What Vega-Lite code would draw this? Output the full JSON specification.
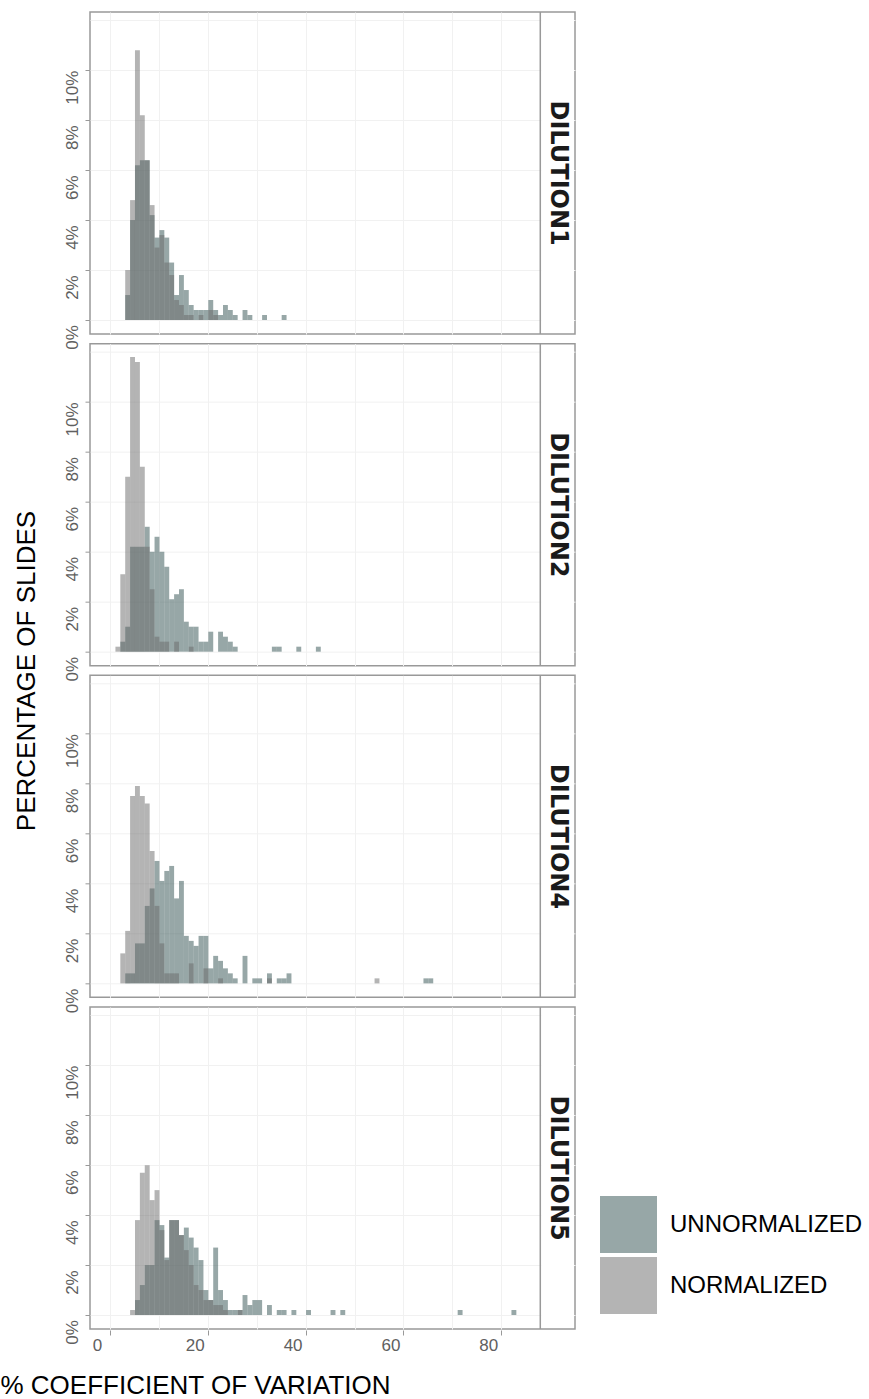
{
  "$schema": "https://vega.github.io/schema/vega-lite/v6.json",
  "padding": {"left": 0, "top": 10, "right": 0, "bottom": 0},
  "autosize": {"type": "pad"},
  "background": "white",
  "config": {
    "view": {"stroke": "#999999", "strokeWidth": 1.5},
    "axis": {"gridWidth": 1}
  },
  "data": {"values": [
    {"panel":"DILUTION1","series":"UNNORMALIZED","cv_start":3,"cv_end":4,"pct":1.0},
    {"panel":"DILUTION1","series":"UNNORMALIZED","cv_start":4,"cv_end":5,"pct":4.0},
    {"panel":"DILUTION1","series":"UNNORMALIZED","cv_start":5,"cv_end":6,"pct":6.2},
    {"panel":"DILUTION1","series":"UNNORMALIZED","cv_start":6,"cv_end":7,"pct":6.4},
    {"panel":"DILUTION1","series":"UNNORMALIZED","cv_start":7,"cv_end":8,"pct":6.4},
    {"panel":"DILUTION1","series":"UNNORMALIZED","cv_start":8,"cv_end":9,"pct":4.2},
    {"panel":"DILUTION1","series":"UNNORMALIZED","cv_start":9,"cv_end":10,"pct":3.3},
    {"panel":"DILUTION1","series":"UNNORMALIZED","cv_start":10,"cv_end":11,"pct":3.6},
    {"panel":"DILUTION1","series":"UNNORMALIZED","cv_start":11,"cv_end":12,"pct":3.3},
    {"panel":"DILUTION1","series":"UNNORMALIZED","cv_start":12,"cv_end":13,"pct":2.3},
    {"panel":"DILUTION1","series":"UNNORMALIZED","cv_start":13,"cv_end":14,"pct":1.0},
    {"panel":"DILUTION1","series":"UNNORMALIZED","cv_start":14,"cv_end":15,"pct":1.8},
    {"panel":"DILUTION1","series":"UNNORMALIZED","cv_start":15,"cv_end":16,"pct":1.2},
    {"panel":"DILUTION1","series":"UNNORMALIZED","cv_start":16,"cv_end":17,"pct":0.6},
    {"panel":"DILUTION1","series":"UNNORMALIZED","cv_start":17,"cv_end":18,"pct":0.4},
    {"panel":"DILUTION1","series":"UNNORMALIZED","cv_start":18,"cv_end":19,"pct":0.4},
    {"panel":"DILUTION1","series":"UNNORMALIZED","cv_start":19,"cv_end":20,"pct":0.4},
    {"panel":"DILUTION1","series":"UNNORMALIZED","cv_start":20,"cv_end":21,"pct":0.8},
    {"panel":"DILUTION1","series":"UNNORMALIZED","cv_start":21,"cv_end":22,"pct":0.4},
    {"panel":"DILUTION1","series":"UNNORMALIZED","cv_start":22,"cv_end":23,"pct":0.2},
    {"panel":"DILUTION1","series":"UNNORMALIZED","cv_start":23,"cv_end":24,"pct":0.6},
    {"panel":"DILUTION1","series":"UNNORMALIZED","cv_start":24,"cv_end":25,"pct":0.4},
    {"panel":"DILUTION1","series":"UNNORMALIZED","cv_start":25,"cv_end":26,"pct":0.2},
    {"panel":"DILUTION1","series":"UNNORMALIZED","cv_start":27,"cv_end":28,"pct":0.4},
    {"panel":"DILUTION1","series":"UNNORMALIZED","cv_start":28,"cv_end":29,"pct":0.2},
    {"panel":"DILUTION1","series":"UNNORMALIZED","cv_start":31,"cv_end":32,"pct":0.2},
    {"panel":"DILUTION1","series":"UNNORMALIZED","cv_start":35,"cv_end":36,"pct":0.2},
    {"panel":"DILUTION2","series":"UNNORMALIZED","cv_start":2,"cv_end":3,"pct":0.4},
    {"panel":"DILUTION2","series":"UNNORMALIZED","cv_start":3,"cv_end":4,"pct":1.0},
    {"panel":"DILUTION2","series":"UNNORMALIZED","cv_start":4,"cv_end":5,"pct":4.2},
    {"panel":"DILUTION2","series":"UNNORMALIZED","cv_start":5,"cv_end":6,"pct":4.2},
    {"panel":"DILUTION2","series":"UNNORMALIZED","cv_start":6,"cv_end":7,"pct":4.2},
    {"panel":"DILUTION2","series":"UNNORMALIZED","cv_start":7,"cv_end":8,"pct":5.0},
    {"panel":"DILUTION2","series":"UNNORMALIZED","cv_start":8,"cv_end":9,"pct":4.0},
    {"panel":"DILUTION2","series":"UNNORMALIZED","cv_start":9,"cv_end":10,"pct":4.6},
    {"panel":"DILUTION2","series":"UNNORMALIZED","cv_start":10,"cv_end":11,"pct":4.0},
    {"panel":"DILUTION2","series":"UNNORMALIZED","cv_start":11,"cv_end":12,"pct":3.4},
    {"panel":"DILUTION2","series":"UNNORMALIZED","cv_start":12,"cv_end":13,"pct":2.1},
    {"panel":"DILUTION2","series":"UNNORMALIZED","cv_start":13,"cv_end":14,"pct":2.3},
    {"panel":"DILUTION2","series":"UNNORMALIZED","cv_start":14,"cv_end":15,"pct":2.5},
    {"panel":"DILUTION2","series":"UNNORMALIZED","cv_start":15,"cv_end":16,"pct":1.2},
    {"panel":"DILUTION2","series":"UNNORMALIZED","cv_start":16,"cv_end":17,"pct":1.0},
    {"panel":"DILUTION2","series":"UNNORMALIZED","cv_start":17,"cv_end":18,"pct":1.0},
    {"panel":"DILUTION2","series":"UNNORMALIZED","cv_start":18,"cv_end":19,"pct":0.4},
    {"panel":"DILUTION2","series":"UNNORMALIZED","cv_start":19,"cv_end":20,"pct":0.4},
    {"panel":"DILUTION2","series":"UNNORMALIZED","cv_start":20,"cv_end":21,"pct":0.8},
    {"panel":"DILUTION2","series":"UNNORMALIZED","cv_start":22,"cv_end":23,"pct":0.8},
    {"panel":"DILUTION2","series":"UNNORMALIZED","cv_start":23,"cv_end":24,"pct":0.6},
    {"panel":"DILUTION2","series":"UNNORMALIZED","cv_start":24,"cv_end":25,"pct":0.4},
    {"panel":"DILUTION2","series":"UNNORMALIZED","cv_start":25,"cv_end":26,"pct":0.2},
    {"panel":"DILUTION2","series":"UNNORMALIZED","cv_start":33,"cv_end":34,"pct":0.2},
    {"panel":"DILUTION2","series":"UNNORMALIZED","cv_start":34,"cv_end":35,"pct":0.2},
    {"panel":"DILUTION2","series":"UNNORMALIZED","cv_start":38,"cv_end":39,"pct":0.2},
    {"panel":"DILUTION2","series":"UNNORMALIZED","cv_start":42,"cv_end":43,"pct":0.2},
    {"panel":"DILUTION4","series":"UNNORMALIZED","cv_start":3,"cv_end":4,"pct":0.4},
    {"panel":"DILUTION4","series":"UNNORMALIZED","cv_start":4,"cv_end":5,"pct":0.4},
    {"panel":"DILUTION4","series":"UNNORMALIZED","cv_start":5,"cv_end":6,"pct":1.6},
    {"panel":"DILUTION4","series":"UNNORMALIZED","cv_start":6,"cv_end":7,"pct":1.6},
    {"panel":"DILUTION4","series":"UNNORMALIZED","cv_start":7,"cv_end":8,"pct":3.1},
    {"panel":"DILUTION4","series":"UNNORMALIZED","cv_start":8,"cv_end":9,"pct":3.8},
    {"panel":"DILUTION4","series":"UNNORMALIZED","cv_start":9,"cv_end":10,"pct":4.9},
    {"panel":"DILUTION4","series":"UNNORMALIZED","cv_start":10,"cv_end":11,"pct":4.1},
    {"panel":"DILUTION4","series":"UNNORMALIZED","cv_start":11,"cv_end":12,"pct":4.5},
    {"panel":"DILUTION4","series":"UNNORMALIZED","cv_start":12,"cv_end":13,"pct":4.7},
    {"panel":"DILUTION4","series":"UNNORMALIZED","cv_start":13,"cv_end":14,"pct":3.4},
    {"panel":"DILUTION4","series":"UNNORMALIZED","cv_start":14,"cv_end":15,"pct":4.1},
    {"panel":"DILUTION4","series":"UNNORMALIZED","cv_start":15,"cv_end":16,"pct":1.9},
    {"panel":"DILUTION4","series":"UNNORMALIZED","cv_start":16,"cv_end":17,"pct":1.7},
    {"panel":"DILUTION4","series":"UNNORMALIZED","cv_start":17,"cv_end":18,"pct":1.5},
    {"panel":"DILUTION4","series":"UNNORMALIZED","cv_start":18,"cv_end":19,"pct":1.9},
    {"panel":"DILUTION4","series":"UNNORMALIZED","cv_start":19,"cv_end":20,"pct":1.9},
    {"panel":"DILUTION4","series":"UNNORMALIZED","cv_start":20,"cv_end":21,"pct":0.6},
    {"panel":"DILUTION4","series":"UNNORMALIZED","cv_start":21,"cv_end":22,"pct":1.1},
    {"panel":"DILUTION4","series":"UNNORMALIZED","cv_start":22,"cv_end":23,"pct":0.9},
    {"panel":"DILUTION4","series":"UNNORMALIZED","cv_start":23,"cv_end":24,"pct":0.6},
    {"panel":"DILUTION4","series":"UNNORMALIZED","cv_start":24,"cv_end":25,"pct":0.4},
    {"panel":"DILUTION4","series":"UNNORMALIZED","cv_start":25,"cv_end":26,"pct":0.2},
    {"panel":"DILUTION4","series":"UNNORMALIZED","cv_start":27,"cv_end":28,"pct":1.1},
    {"panel":"DILUTION4","series":"UNNORMALIZED","cv_start":29,"cv_end":30,"pct":0.2},
    {"panel":"DILUTION4","series":"UNNORMALIZED","cv_start":30,"cv_end":31,"pct":0.2},
    {"panel":"DILUTION4","series":"UNNORMALIZED","cv_start":32,"cv_end":33,"pct":0.4},
    {"panel":"DILUTION4","series":"UNNORMALIZED","cv_start":34,"cv_end":35,"pct":0.2},
    {"panel":"DILUTION4","series":"UNNORMALIZED","cv_start":35,"cv_end":36,"pct":0.2},
    {"panel":"DILUTION4","series":"UNNORMALIZED","cv_start":36,"cv_end":37,"pct":0.4},
    {"panel":"DILUTION4","series":"UNNORMALIZED","cv_start":64,"cv_end":65,"pct":0.2},
    {"panel":"DILUTION4","series":"UNNORMALIZED","cv_start":65,"cv_end":66,"pct":0.2},
    {"panel":"DILUTION5","series":"UNNORMALIZED","cv_start":5,"cv_end":6,"pct":0.6},
    {"panel":"DILUTION5","series":"UNNORMALIZED","cv_start":6,"cv_end":7,"pct":1.2},
    {"panel":"DILUTION5","series":"UNNORMALIZED","cv_start":7,"cv_end":8,"pct":2.0},
    {"panel":"DILUTION5","series":"UNNORMALIZED","cv_start":8,"cv_end":9,"pct":2.0},
    {"panel":"DILUTION5","series":"UNNORMALIZED","cv_start":9,"cv_end":10,"pct":3.8},
    {"panel":"DILUTION5","series":"UNNORMALIZED","cv_start":10,"cv_end":11,"pct":3.6},
    {"panel":"DILUTION5","series":"UNNORMALIZED","cv_start":11,"cv_end":12,"pct":2.3},
    {"panel":"DILUTION5","series":"UNNORMALIZED","cv_start":12,"cv_end":13,"pct":3.8},
    {"panel":"DILUTION5","series":"UNNORMALIZED","cv_start":13,"cv_end":14,"pct":3.8},
    {"panel":"DILUTION5","series":"UNNORMALIZED","cv_start":14,"cv_end":15,"pct":3.2},
    {"panel":"DILUTION5","series":"UNNORMALIZED","cv_start":15,"cv_end":16,"pct":3.5},
    {"panel":"DILUTION5","series":"UNNORMALIZED","cv_start":16,"cv_end":17,"pct":3.1},
    {"panel":"DILUTION5","series":"UNNORMALIZED","cv_start":17,"cv_end":18,"pct":2.7},
    {"panel":"DILUTION5","series":"UNNORMALIZED","cv_start":18,"cv_end":19,"pct":2.2},
    {"panel":"DILUTION5","series":"UNNORMALIZED","cv_start":19,"cv_end":20,"pct":1.0},
    {"panel":"DILUTION5","series":"UNNORMALIZED","cv_start":20,"cv_end":21,"pct":0.6},
    {"panel":"DILUTION5","series":"UNNORMALIZED","cv_start":21,"cv_end":22,"pct":2.7},
    {"panel":"DILUTION5","series":"UNNORMALIZED","cv_start":22,"cv_end":23,"pct":1.0},
    {"panel":"DILUTION5","series":"UNNORMALIZED","cv_start":23,"cv_end":24,"pct":0.6},
    {"panel":"DILUTION5","series":"UNNORMALIZED","cv_start":24,"cv_end":25,"pct":0.2},
    {"panel":"DILUTION5","series":"UNNORMALIZED","cv_start":25,"cv_end":26,"pct":0.2},
    {"panel":"DILUTION5","series":"UNNORMALIZED","cv_start":26,"cv_end":27,"pct":0.2},
    {"panel":"DILUTION5","series":"UNNORMALIZED","cv_start":27,"cv_end":28,"pct":0.8},
    {"panel":"DILUTION5","series":"UNNORMALIZED","cv_start":28,"cv_end":29,"pct":0.4},
    {"panel":"DILUTION5","series":"UNNORMALIZED","cv_start":29,"cv_end":30,"pct":0.6},
    {"panel":"DILUTION5","series":"UNNORMALIZED","cv_start":30,"cv_end":31,"pct":0.6},
    {"panel":"DILUTION5","series":"UNNORMALIZED","cv_start":32,"cv_end":33,"pct":0.4},
    {"panel":"DILUTION5","series":"UNNORMALIZED","cv_start":34,"cv_end":35,"pct":0.2},
    {"panel":"DILUTION5","series":"UNNORMALIZED","cv_start":35,"cv_end":36,"pct":0.2},
    {"panel":"DILUTION5","series":"UNNORMALIZED","cv_start":37,"cv_end":38,"pct":0.2},
    {"panel":"DILUTION5","series":"UNNORMALIZED","cv_start":40,"cv_end":41,"pct":0.2},
    {"panel":"DILUTION5","series":"UNNORMALIZED","cv_start":45,"cv_end":46,"pct":0.2},
    {"panel":"DILUTION5","series":"UNNORMALIZED","cv_start":47,"cv_end":48,"pct":0.2},
    {"panel":"DILUTION5","series":"UNNORMALIZED","cv_start":71,"cv_end":72,"pct":0.2},
    {"panel":"DILUTION5","series":"UNNORMALIZED","cv_start":82,"cv_end":83,"pct":0.2},
    {"panel":"DILUTION1","series":"NORMALIZED","cv_start":3,"cv_end":4,"pct":2.0},
    {"panel":"DILUTION1","series":"NORMALIZED","cv_start":4,"cv_end":5,"pct":4.8},
    {"panel":"DILUTION1","series":"NORMALIZED","cv_start":5,"cv_end":6,"pct":10.8},
    {"panel":"DILUTION1","series":"NORMALIZED","cv_start":6,"cv_end":7,"pct":8.2},
    {"panel":"DILUTION1","series":"NORMALIZED","cv_start":7,"cv_end":8,"pct":6.4},
    {"panel":"DILUTION1","series":"NORMALIZED","cv_start":8,"cv_end":9,"pct":4.6},
    {"panel":"DILUTION1","series":"NORMALIZED","cv_start":9,"cv_end":10,"pct":2.9},
    {"panel":"DILUTION1","series":"NORMALIZED","cv_start":10,"cv_end":11,"pct":3.4},
    {"panel":"DILUTION1","series":"NORMALIZED","cv_start":11,"cv_end":12,"pct":2.3},
    {"panel":"DILUTION1","series":"NORMALIZED","cv_start":12,"cv_end":13,"pct":1.8},
    {"panel":"DILUTION1","series":"NORMALIZED","cv_start":13,"cv_end":14,"pct":0.8},
    {"panel":"DILUTION1","series":"NORMALIZED","cv_start":14,"cv_end":15,"pct":0.6},
    {"panel":"DILUTION1","series":"NORMALIZED","cv_start":15,"cv_end":16,"pct":0.2},
    {"panel":"DILUTION1","series":"NORMALIZED","cv_start":16,"cv_end":17,"pct":0.2},
    {"panel":"DILUTION1","series":"NORMALIZED","cv_start":18,"cv_end":19,"pct":0.2},
    {"panel":"DILUTION1","series":"NORMALIZED","cv_start":20,"cv_end":21,"pct":0.4},
    {"panel":"DILUTION1","series":"NORMALIZED","cv_start":21,"cv_end":22,"pct":0.2},
    {"panel":"DILUTION2","series":"NORMALIZED","cv_start":1,"cv_end":2,"pct":0.2},
    {"panel":"DILUTION2","series":"NORMALIZED","cv_start":2,"cv_end":3,"pct":3.1},
    {"panel":"DILUTION2","series":"NORMALIZED","cv_start":3,"cv_end":4,"pct":7.0},
    {"panel":"DILUTION2","series":"NORMALIZED","cv_start":4,"cv_end":5,"pct":11.8},
    {"panel":"DILUTION2","series":"NORMALIZED","cv_start":5,"cv_end":6,"pct":11.6},
    {"panel":"DILUTION2","series":"NORMALIZED","cv_start":6,"cv_end":7,"pct":7.4},
    {"panel":"DILUTION2","series":"NORMALIZED","cv_start":7,"cv_end":8,"pct":4.2},
    {"panel":"DILUTION2","series":"NORMALIZED","cv_start":8,"cv_end":9,"pct":2.5},
    {"panel":"DILUTION2","series":"NORMALIZED","cv_start":9,"cv_end":10,"pct":0.6},
    {"panel":"DILUTION2","series":"NORMALIZED","cv_start":10,"cv_end":11,"pct":0.4},
    {"panel":"DILUTION2","series":"NORMALIZED","cv_start":11,"cv_end":12,"pct":0.4},
    {"panel":"DILUTION2","series":"NORMALIZED","cv_start":13,"cv_end":14,"pct":0.4},
    {"panel":"DILUTION2","series":"NORMALIZED","cv_start":16,"cv_end":17,"pct":0.2},
    {"panel":"DILUTION4","series":"NORMALIZED","cv_start":2,"cv_end":3,"pct":1.2},
    {"panel":"DILUTION4","series":"NORMALIZED","cv_start":3,"cv_end":4,"pct":2.1},
    {"panel":"DILUTION4","series":"NORMALIZED","cv_start":4,"cv_end":5,"pct":7.5},
    {"panel":"DILUTION4","series":"NORMALIZED","cv_start":5,"cv_end":6,"pct":7.9},
    {"panel":"DILUTION4","series":"NORMALIZED","cv_start":6,"cv_end":7,"pct":7.5},
    {"panel":"DILUTION4","series":"NORMALIZED","cv_start":7,"cv_end":8,"pct":7.2},
    {"panel":"DILUTION4","series":"NORMALIZED","cv_start":8,"cv_end":9,"pct":5.3},
    {"panel":"DILUTION4","series":"NORMALIZED","cv_start":9,"cv_end":10,"pct":3.1},
    {"panel":"DILUTION4","series":"NORMALIZED","cv_start":10,"cv_end":11,"pct":1.6},
    {"panel":"DILUTION4","series":"NORMALIZED","cv_start":11,"cv_end":12,"pct":0.4},
    {"panel":"DILUTION4","series":"NORMALIZED","cv_start":12,"cv_end":13,"pct":0.4},
    {"panel":"DILUTION4","series":"NORMALIZED","cv_start":13,"cv_end":14,"pct":0.4},
    {"panel":"DILUTION4","series":"NORMALIZED","cv_start":16,"cv_end":17,"pct":0.8},
    {"panel":"DILUTION4","series":"NORMALIZED","cv_start":19,"cv_end":20,"pct":0.6},
    {"panel":"DILUTION4","series":"NORMALIZED","cv_start":22,"cv_end":23,"pct":0.2},
    {"panel":"DILUTION4","series":"NORMALIZED","cv_start":32,"cv_end":33,"pct":0.2},
    {"panel":"DILUTION4","series":"NORMALIZED","cv_start":54,"cv_end":55,"pct":0.2},
    {"panel":"DILUTION5","series":"NORMALIZED","cv_start":4,"cv_end":5,"pct":0.2},
    {"panel":"DILUTION5","series":"NORMALIZED","cv_start":5,"cv_end":6,"pct":3.8},
    {"panel":"DILUTION5","series":"NORMALIZED","cv_start":6,"cv_end":7,"pct":5.7},
    {"panel":"DILUTION5","series":"NORMALIZED","cv_start":7,"cv_end":8,"pct":6.0},
    {"panel":"DILUTION5","series":"NORMALIZED","cv_start":8,"cv_end":9,"pct":4.6},
    {"panel":"DILUTION5","series":"NORMALIZED","cv_start":9,"cv_end":10,"pct":5.0},
    {"panel":"DILUTION5","series":"NORMALIZED","cv_start":10,"cv_end":11,"pct":3.4},
    {"panel":"DILUTION5","series":"NORMALIZED","cv_start":11,"cv_end":12,"pct":2.2},
    {"panel":"DILUTION5","series":"NORMALIZED","cv_start":12,"cv_end":13,"pct":3.8},
    {"panel":"DILUTION5","series":"NORMALIZED","cv_start":13,"cv_end":14,"pct":3.8},
    {"panel":"DILUTION5","series":"NORMALIZED","cv_start":14,"cv_end":15,"pct":3.2},
    {"panel":"DILUTION5","series":"NORMALIZED","cv_start":15,"cv_end":16,"pct":2.6},
    {"panel":"DILUTION5","series":"NORMALIZED","cv_start":16,"cv_end":17,"pct":2.0},
    {"panel":"DILUTION5","series":"NORMALIZED","cv_start":17,"cv_end":18,"pct":1.2},
    {"panel":"DILUTION5","series":"NORMALIZED","cv_start":18,"cv_end":19,"pct":1.0},
    {"panel":"DILUTION5","series":"NORMALIZED","cv_start":19,"cv_end":20,"pct":0.6},
    {"panel":"DILUTION5","series":"NORMALIZED","cv_start":20,"cv_end":21,"pct":0.6},
    {"panel":"DILUTION5","series":"NORMALIZED","cv_start":21,"cv_end":22,"pct":0.4},
    {"panel":"DILUTION5","series":"NORMALIZED","cv_start":22,"cv_end":23,"pct":0.4},
    {"panel":"DILUTION5","series":"NORMALIZED","cv_start":23,"cv_end":24,"pct":0.2},
    {"panel":"DILUTION5","series":"NORMALIZED","cv_start":26,"cv_end":27,"pct":0.2}
  ]},
  "facet": {
    "row": {
      "field": "panel",
      "type": "nominal",
      "sort": ["DILUTION1", "DILUTION2", "DILUTION4", "DILUTION5"],
      "title": "PERCENTAGE OF SLIDES",
      "header": {
        "labels": false,
        "titleOrient": "left",
        "titleFontSize": 26,
        "titleFont": "Liberation Sans",
        "titleFontWeight": "normal",
        "titleColor": "black",
        "titlePadding": 12
      }
    }
  },
  "spacing": 9.67,
  "bounds": "flush",
  "spec": {
    "width": 485,
    "height": 322,
    "layer": [
      {
        "mark": {"type": "bar", "opacity": 0.5, "binSpacing": 0, "strokeWidth": 0},
        "encoding": {
          "x": {
            "field": "cv_start",
            "type": "quantitative",
            "bin": {"binned": true},
            "scale": {"domain": [-4.1, 95.1], "nice": false, "zero": false},
            "axis": {
              "values": [0, 10, 20, 30, 40, 50, 60, 70, 80],
              "labelExpr": "datum.value % 20 == 0 ? datum.label : ''",
              "grid": true,
              "gridColor": "#f1f1f1",
              "domain": false,
              "tickColor": "#999999",
              "tickOpacity": {"condition": {"test": "datum.value % 20 == 0", "value": 1}, "value": 0},
              "tickSize": 5,
              "labelFontSize": 17,
              "labelFont": "Liberation Sans",
              "labelColor": "#606060",
              "labelOffset": -13,
              "labelPadding": 2,
              "labelFlush": false,
              "labelOverlap": false,
              "title": "% COEFFICIENT OF VARIATION",
              "titleFontSize": 26,
              "titleFont": "Liberation Sans",
              "titleFontWeight": "normal",
              "titleColor": "black",
              "titleAnchor": "start",
              "titleAlign": "left",
              "titleBaseline": "alphabetic",
              "titleX": -90,
              "titleY": 63
            }
          },
          "x2": {"field": "cv_end"},
          "y": {
            "field": "pct",
            "type": "quantitative",
            "stack": null,
            "scale": {"domain": [-0.56, 12.33], "nice": false},
            "axis": {
              "values": [0, 1, 2, 3, 4, 5, 6, 7, 8, 9, 10, 11, 12],
              "labelExpr": "datum.value % 2 == 0 && datum.value <= 10 ? datum.value + '%' : ''",
              "grid": true,
              "gridColor": "#f1f1f1",
              "domain": false,
              "tickColor": "#999999",
              "tickOpacity": {"condition": {"test": "datum.value % 2 == 0 && datum.value <= 10", "value": 1}, "value": 0},
              "tickSize": 5,
              "labelAngle": 270,
              "labelAlign": "center",
              "labelBaseline": "bottom",
              "labelOffset": 17,
              "labelPadding": 4,
              "labelFontSize": 17,
              "labelFont": "Liberation Sans",
              "labelColor": "#606060",
              "labelFlush": false,
              "labelOverlap": false,
              "title": null
            }
          },
          "color": {
            "field": "series",
            "type": "nominal",
            "scale": {"domain": ["UNNORMALIZED", "NORMALIZED"], "range": ["#2f4f4f", "#696969"]},
            "legend": {
              "title": null,
              "orient": "none",
              "legendX": 510,
              "legendY": 1184,
              "symbolType": "square",
              "symbolSize": 3249,
              "symbolOpacity": 0.5,
              "symbolStrokeWidth": 0,
              "labelFontSize": 24,
              "labelFont": "Liberation Sans",
              "labelColor": "black",
              "labelOffset": 13,
              "labelLimit": 0,
              "rowPadding": 4
            }
          }
        }
      },
      {
        "transform": [{"aggregate": [{"op": "count", "as": "n"}], "groupby": ["panel"]}],
        "mark": {"type": "rect", "fill": "white", "strokeWidth": 0},
        "encoding": {
          "x": {"datum": 88.2},
          "x2": {"datum": 94.9},
          "y": {"datum": -0.5},
          "y2": {"datum": 12.27}
        }
      },
      {
        "transform": [{"aggregate": [{"op": "count", "as": "n"}], "groupby": ["panel"]}],
        "mark": {"type": "rule", "color": "#999999", "strokeWidth": 1.5},
        "encoding": {
          "x": {"datum": 88},
          "y": {"datum": -0.56},
          "y2": {"datum": 12.33}
        }
      },
      {
        "transform": [{"aggregate": [{"op": "count", "as": "n"}], "groupby": ["panel"]}],
        "mark": {"type": "text", "angle": 90, "font": "DejaVu Sans", "fontWeight": "bold", "fontSize": 24, "color": "#1a1a1a", "align": "center", "baseline": "middle"},
        "encoding": {
          "x": {"datum": 91.55},
          "y": {"datum": 5.88},
          "text": {"field": "panel"}
        }
      }
    ]
  }
}
